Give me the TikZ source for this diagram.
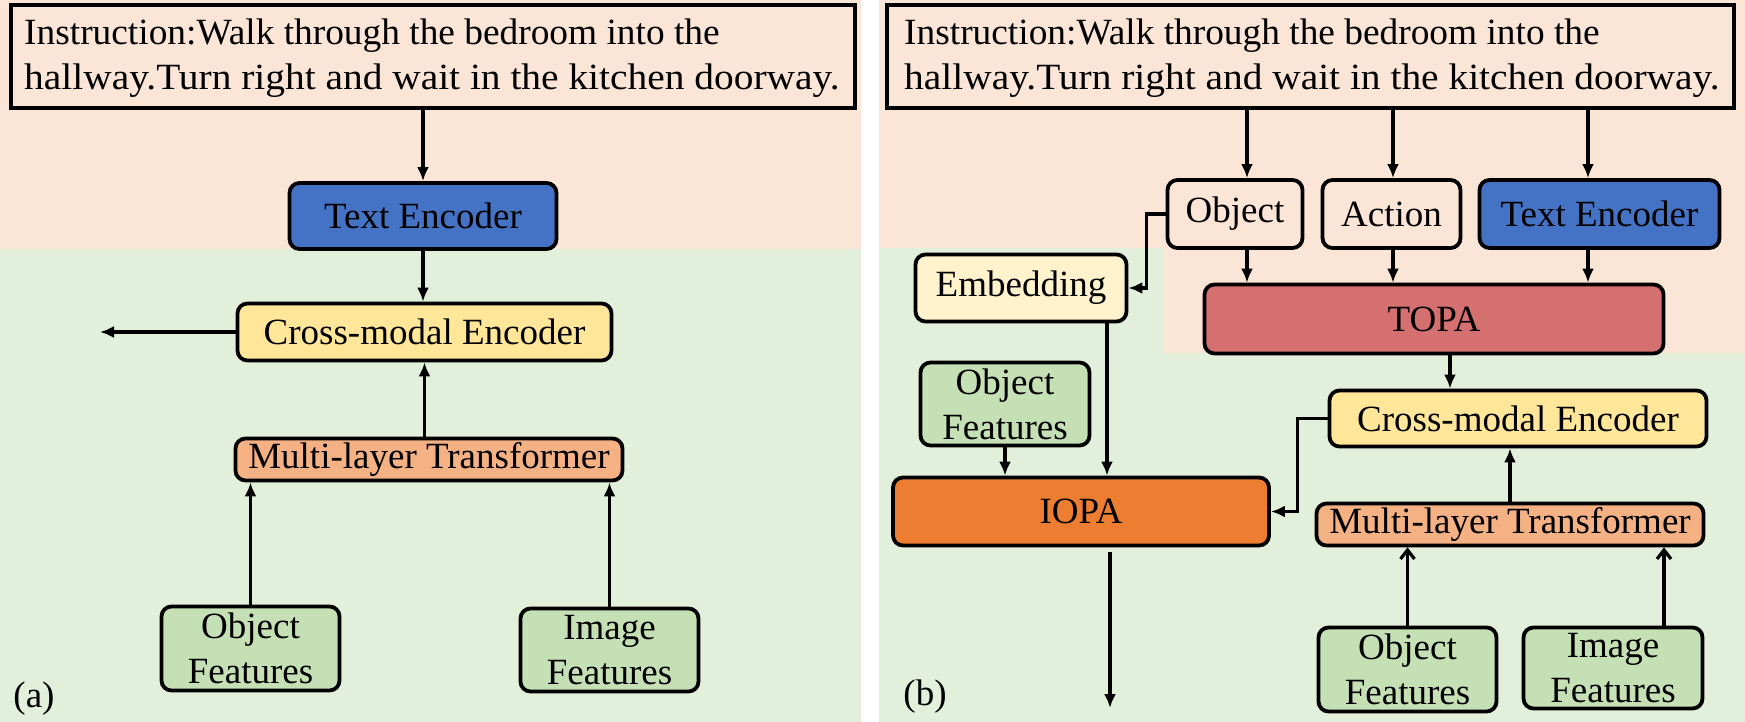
\documentclass[tikz,border=0pt]{standalone}
\usepackage{fontspec}
\setmainfont{Liberation Serif}
\usetikzlibrary{arrows.meta}
\definecolor{peachbg}{HTML}{FBE5D6}
\definecolor{greenbg}{HTML}{E2EFDA}
\definecolor{blueenc}{HTML}{4472C4}
\definecolor{yellowcm}{HTML}{FFE699}
\definecolor{mltcol}{HTML}{F4B183}
\definecolor{featcol}{HTML}{C5E0B4}
\definecolor{embcol}{HTML}{FFF2CC}
\definecolor{topacol}{HTML}{D4706F}
\definecolor{iopacol}{HTML}{ED7D31}
\begin{document}
\begin{tikzpicture}[x=1pt,y=-1pt,
  box/.style={draw=black, line width=3.8pt, rounded corners=10pt, inner sep=0pt,
    font=\fontsize{37}{45}\selectfont, align=center},
  txt/.style={inner sep=0pt, font=\fontsize{37}{45}\selectfont},
  instr/.style={draw=black, line width=4.5pt, inner sep=0pt},
  arr/.style={line width=3.2pt, -{Latex[length=14pt,width=12pt]}},
  barb/.style={line width=3.2pt, -{Straight Barb[length=9pt,width=14pt,line width=3.2pt]}}
]
\useasboundingbox (0,0) rectangle (1745,722);
% backgrounds
\fill[greenbg] (0,249) rectangle (861,722);
\fill[peachbg] (0,0) rectangle (861,249);
\fill[greenbg] (879,248) rectangle (1745,722);
\fill[peachbg] (879,0) rectangle (1745,248);
\fill[peachbg] (1163,247) rectangle (1745,353);

% ---------- panel (a)
\node[instr, minimum width=844, minimum height=103] (inA) at (433,56.5) {};
\node[txt, anchor=base west] (inA1) at (24,45) {\scalebox{1.01}[1]{Instruction:Walk through the bedroom into the}};
\node[txt, anchor=base west] (inA2) at (24,90) {\scalebox{1.065}[1]{hallway.Turn right and wait in the kitchen doorway.}};
\node[box, fill=blueenc, minimum width=267, minimum height=66] (teA) at (423,216) {Text Encoder};
\node[box, fill=yellowcm, minimum width=374, minimum height=57] (cmA) at (424.5,332) {Cross-modal Encoder};
\node[box, fill=mltcol, minimum width=387, minimum height=42] (mlA) at (429,459.5) {Multi-layer Transformer};
\node[box, fill=featcol, minimum width=178, minimum height=84] (ofA) at (250.5,648.5) {Object\\Features};
\node[box, fill=featcol, minimum width=178, minimum height=83] (ifA) at (609.5,650) {Image\\Features};
\node[txt] (la) at (34,699) {(a)};
\coordinate (aout) at (100,332);

\draw[arr] (inA.south -| teA) -- (teA.north);
\draw[arr] (teA.south) -- (teA.south |- cmA.north);
\draw[arr] (cmA.west) -- (aout);
\draw[arr] (cmA.south |- mlA.north) -- (cmA.south);
\draw[arr] (ofA.north) -- (ofA.north |- mlA.south);
\draw[arr] (ifA.north) -- (ifA.north |- mlA.south);

% ---------- panel (b)
\node[instr, minimum width=847, minimum height=103] (inB) at (1310.5,56.5) {};
\node[txt, anchor=base west] (inB1) at (904,45) {\scalebox{1.01}[1]{Instruction:Walk through the bedroom into the}};
\node[txt, anchor=base west] (inB2) at (904,90) {\scalebox{1.065}[1]{hallway.Turn right and wait in the kitchen doorway.}};
\node[box, fill=peachbg, minimum width=135, minimum height=68] (obB) at (1235,214) {Object};
\node[box, fill=peachbg, minimum width=138, minimum height=68] (acB) at (1391.5,214) {Action};
\node[box, fill=blueenc, minimum width=240, minimum height=68] (teB) at (1599.5,214) {Text Encoder};
\node[box, fill=topacol, minimum width=459, minimum height=69] (topa) at (1434,319) {TOPA};
\node[box, fill=embcol, minimum width=211, minimum height=67] (emb) at (1021,288) {Embedding};
\node[box, fill=featcol, minimum width=169, minimum height=83] (ofB1) at (1005,404) {Object\\Features};
\node[box, fill=iopacol, minimum width=376, minimum height=68] (iopa) at (1081,511.5) {IOPA};
\node[box, fill=yellowcm, minimum width=377, minimum height=56] (cmB) at (1518,418.5) {Cross-modal Encoder};
\node[box, fill=mltcol, minimum width=387, minimum height=42] (mlB) at (1510,524.5) {Multi-layer Transformer};
\node[box, fill=featcol, minimum width=178, minimum height=84] (ofB2) at (1407.5,669.5) {Object\\Features};
\node[box, fill=featcol, minimum width=179, minimum height=81] (ifB) at (1613,668) {Image\\Features};
\node[txt] (lb) at (925,697) {(b)};

\coordinate (x1) at (1247,0);
\coordinate (x2) at (1393,0);
\coordinate (x3) at (1588,0);
\coordinate (x4) at (1107,0);
\coordinate (x5) at (1110,0);
\coordinate (x6) at (1450,0);
\coordinate (x7) at (1664,0);
\coordinate (bout) at (1110,708);

\draw[arr] (inB.south -| x1) -- (obB.north -| x1);
\draw[arr] (inB.south -| x2) -- (acB.north -| x2);
\draw[arr] (inB.south -| x3) -- (teB.north -| x3);
\draw[arr] (obB.south -| x1) -- (topa.north -| x1);
\draw[arr] (acB.south -| x2) -- (topa.north -| x2);
\draw[arr] (teB.south -| x3) -- (topa.north -| x3);
\draw[arr] (obB.west) -- ++(-19,0) |- (emb.east);
\draw[arr] (emb.south -| x4) -- (iopa.north -| x4);
\draw[arr] (ofB1.south) -- (ofB1.south |- iopa.north);
\draw[arr, shorten <=5pt] (iopa.south -| x5) -- (bout);
\draw[arr] (topa.south -| x6) -- (cmB.north -| x6);
\draw[arr] (cmB.west) -- ++(-30,0) |- (iopa.east);
\draw[arr] (mlB.north) -- (mlB.north |- cmB.south);
\draw[barb] (ofB2.north) -- (ofB2.north |- mlB.south);
\draw[barb] (ifB.north -| x7) -- (mlB.south -| x7);
\end{tikzpicture}
\end{document}
